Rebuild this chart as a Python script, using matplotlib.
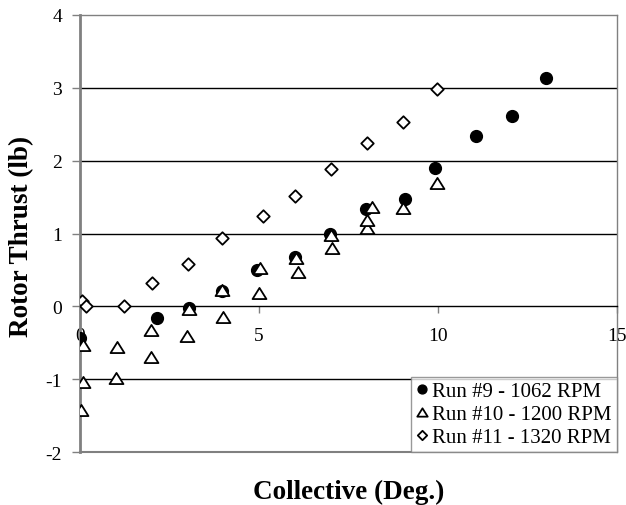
import matplotlib
matplotlib.use("Agg")
import matplotlib.pyplot as plt
from matplotlib.path import Path

plt.rcParams['font.family'] = ['Liberation Serif', 'DejaVu Serif']

# Run #9 - 1062 RPM
run9_x = [0.0, 2.16, 3.05, 3.97, 4.95, 6.0, 6.98, 8.0, 9.08, 9.92, 11.05, 12.06, 13.03]
run9_y = [-0.43, -0.16, -0.02, 0.21, 0.50, 0.68, 0.99, 1.33, 1.48, 1.90, 2.34, 2.62, 3.14]

# Run #10 - 1200 RPM
run10_x = [0.02, 0.07, 0.09, 1.0, 1.04, 1.97, 1.97, 2.98, 3.05, 4.0, 3.97, 5.0, 5.03,
           6.08, 6.03, 7.03, 7.0, 8.03, 8.03, 8.17, 9.01, 9.96]
run10_y = [-1.42, -1.04, -0.53, -0.98, -0.56, -0.70, -0.33, -0.41, -0.04, -0.14, 0.23,
           0.18, 0.52, 0.47, 0.67, 0.80, 0.98, 1.07, 1.19, 1.37, 1.35, 1.69]

# Run #11 - 1320 RPM
run11_x = [0.05, 0.17, 1.24, 2.02, 3.02, 3.98, 5.12, 6.0, 7.0, 8.03, 9.03, 9.96]
run11_y = [0.07, 0.0, 0.01, 0.32, 0.58, 0.94, 1.24, 1.52, 1.89, 2.24, 2.53, 2.98]

labels = ['Run #9 - 1062 RPM', 'Run #10 - 1200 RPM', 'Run #11 - 1320 RPM']

# excel-style wide triangle and diamond markers
tri = Path([(-1, -0.8), (1, -0.8), (0, 0.8), (-1, -0.8)], closed=True)
dia = Path([(0, 1), (1, 0), (0, -1), (-1, 0), (0, 1)], closed=True)

fig = plt.figure(figsize=(6.26, 5.06), dpi=100)
ax = fig.add_axes([80/626, 1 - 453/506, 537/626, 437/506])

ax.plot(run9_x, run9_y, 'o', ls='none', ms=8.5, mfc='black', mec='black',
        label=labels[0], zorder=3)
ax.plot(run10_x, run10_y, marker=tri, ls='none', ms=10, mfc='white', mec='black',
        mew=1.3, label=labels[1], zorder=4)
ax.plot(run11_x, run11_y, marker=dia, ls='none', ms=9, mfc='white', mec='black',
        mew=1.3, label=labels[2], zorder=5)

ax.set_xlim(0, 15)
ax.set_ylim(-2, 4)
ax.set_xticks([0, 5, 10, 15])
ax.set_yticks([-2, -1, 0, 1, 2, 3, 4])
ax.set_yticklabels(['-2', '-1', '0', '1', '2', '3', '4'])

# horizontal gridlines
for yv in [-1, 1, 2, 3]:
    ax.axhline(yv, color='black', lw=1, zorder=1)

# x axis sits at y = 0, plot-area border in gray
ax.spines['bottom'].set_position(('data', 0))
ax.spines['bottom'].set_color('black')
ax.spines['bottom'].set_linewidth(1)
ax.spines['left'].set_color('#808080')
ax.spines['left'].set_linewidth(2)
for s in ['top', 'right']:
    ax.spines[s].set_color('#808080')
    ax.spines[s].set_linewidth(1)
ax.axhline(-2, color='#808080', lw=1.5, zorder=2, clip_on=False)

ax.tick_params(axis='x', direction='out', length=5, width=1, color='#808080',
               labelsize=14, pad=10)
ax.tick_params(axis='y', direction='out', length=6, width=1, color='#808080',
               labelsize=14, pad=7)

ax.set_xlabel('Collective (Deg.)', fontsize=19.5, fontweight='bold')
ax.xaxis.label.set_verticalalignment('center')
ax.xaxis.set_label_coords(348.5/626, 1 - 492/506, transform=fig.transFigure)
ax.set_ylabel('Rotor Thrust (lb)', fontsize=19.5, fontweight='bold')
ax.yaxis.label.set_verticalalignment('center')
ax.yaxis.set_label_coords(22/626, 1 - 236/506, transform=fig.transFigure)

leg = ax.legend(loc='lower right', bbox_to_anchor=(1, 0), borderaxespad=0,
                fontsize=15, frameon=True, fancybox=False, handlelength=0.5,
                handletextpad=0.25, borderpad=0.25, labelspacing=0.15,
                markerscale=0.75)
leg.get_frame().set_edgecolor('#808080')
leg.get_frame().set_linewidth(1)
leg.set_zorder(10)

fig.savefig('out.png', dpi=100)
